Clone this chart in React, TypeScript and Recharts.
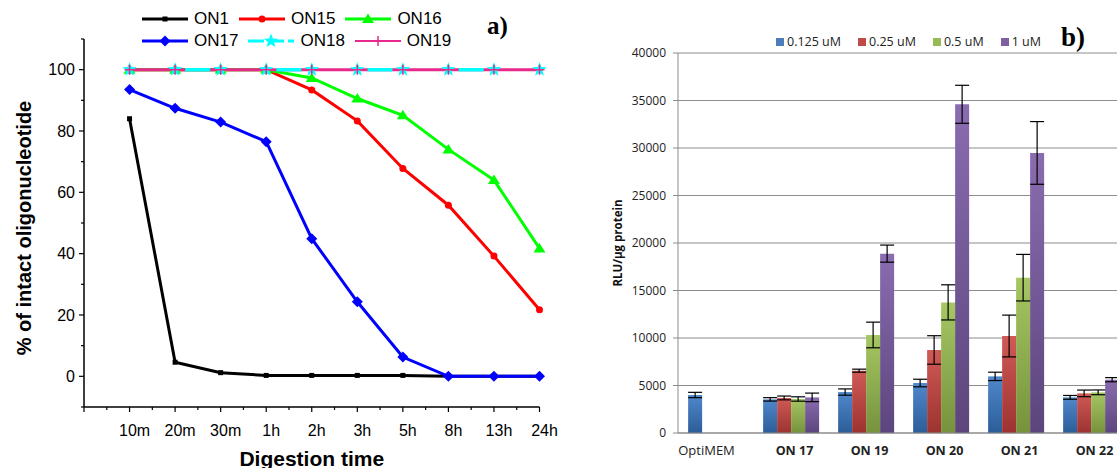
import React from 'react';
import {
  LineChart, Line, XAxis, YAxis, Legend,
  BarChart, Bar, ErrorBar, CartesianGrid,
} from 'recharts';

// ---- panel a) data ----
const timeLabels = ['10m', '20m', '30m', '1h', '2h', '3h', '5h', '8h', '13h', '24h'];
const on1 = [84, 4.6, 1.2, 0.3, 0.3, 0.3, 0.3, 0, 0, 0];
const on15 = [100, 100, 100, 100, 93.4, 83.3, 67.8, 55.8, 39.2, 21.7];
const on16 = [100, 100, 100, 100, 97.3, 90.6, 85.1, 74, 64, 41.7];
const on17 = [93.5, 87.4, 82.9, 76.5, 44.9, 24.3, 6.3, 0, 0, 0];
const on18 = [100, 100, 100, 100, 100, 100, 100, 100, 100, 100];
const on19 = [100, 100, 100, 100, 100, 100, 100, 100, 100, 100];

const yTicksA = [-10, 0, 10, 20, 30, 40, 50, 60, 70, 80, 90, 100, 110];
const xTicksA = [0, 0.5, 1, 1.5, 2, 2.5, 3, 3.5, 4, 4.5, 5, 5.5, 6, 6.5, 7, 7.5, 8, 8.5, 9, 9.5, 10];

// ---- panel b) data ----
const groups = ['OptiMEM', 'ON 17', 'ON 19', 'ON 20', 'ON 21', 'ON 22'];
const c0125 = [4000, 3540, 4310, 5260, 5960, 3750];
const c0125Err = [280, 180, 330, 400, 440, 200];
const c025 = [null, 3690, 6560, 8740, 10210, 4170];
const c025Err = [null, 200, 160, 1500, 2200, 350];
const c05 = [null, 3580, 10320, 13750, 16350, 4280];
const c05Err = [null, 230, 1350, 1850, 2450, 250];
const c1 = [null, 3750, 18880, 34600, 29480, 5610];
const c1Err = [null, 450, 900, 2000, 3300, 220];
const yTicksB = [0, 5000, 10000, 15000, 20000, 25000, 30000, 35000, 40000];

const lineData = timeLabels.map((label, i) => ({
  t: i + 1,
  label,
  ON1: on1[i],
  ON15: on15[i],
  ON16: on16[i],
  ON17: on17[i],
  ON18: on18[i],
  ON19: on19[i],
}));

const barData = groups.map((g, i) => ({
  group: g,
  a: c0125[i], aErr: c0125Err[i],
  b: c025[i], bErr: c025Err[i],
  c: c05[i], cErr: c05Err[i],
  d: c1[i], dErr: c1Err[i],
}));

const seriesA = [
  { key: 'ON1', color: '#000000', shape: 'square', width: 3 },
  { key: 'ON15', color: '#FF0000', shape: 'circle', width: 3 },
  { key: 'ON16', color: '#00FF00', shape: 'triangle', width: 3 },
  { key: 'ON17', color: '#0000FF', shape: 'diamond', width: 3 },
  { key: 'ON18', color: '#00FFFF', shape: 'star', width: 3, dash: true },
  { key: 'ON19', color: '#E8288C', shape: 'plus', width: 2 },
];

const seriesB = [
  { key: 'a', name: '0.125 uM', top: '#5088cc', bottom: '#2b5d98', swatch: '#4a7ebb' },
  { key: 'b', name: '0.25 uM', top: '#d05a56', bottom: '#9c3330', swatch: '#be4b48' },
  { key: 'c', name: '0.5 uM', top: '#a6c763', bottom: '#76923c', swatch: '#98b954' },
  { key: 'd', name: '1 uM', top: '#8a6cb0', bottom: '#5c457c', swatch: '#7d60a0' },
];

const sansA = '"Liberation Sans", Arial, sans-serif';
const sansB = '"Open Sans", sans-serif';

function Marker({ shape, color, cx, cy }: any) {
  if (cx == null || cy == null) return null;
  switch (shape) {
    case 'square':
      return <rect x={cx - 2.5} y={cy - 2.5} width={5} height={5} fill={color} />;
    case 'circle':
      return <circle cx={cx} cy={cy} r={3.5} fill={color} />;
    case 'triangle':
      return <polygon points={`${cx},${cy - 5.5} ${cx + 6},${cy + 4} ${cx - 6},${cy + 4}`} fill={color} />;
    case 'diamond':
      return <polygon points={`${cx},${cy - 5.5} ${cx + 5.5},${cy} ${cx},${cy + 5.5} ${cx - 5.5},${cy}`} fill={color} />;
    case 'star': {
      const pts = [];
      for (let k = 0; k < 10; k++) {
        const r = k % 2 === 0 ? 7.5 : 3.2;
        const ang = -Math.PI / 2 + (k * Math.PI) / 5;
        pts.push(`${cx + r * Math.cos(ang)},${cy + r * Math.sin(ang)}`);
      }
      return <polygon points={pts.join(' ')} fill={color} />;
    }
    case 'plus':
      return <path d={`M${cx - 5},${cy}H${cx + 5}M${cx},${cy - 5}V${cy + 5}`} stroke={color} strokeWidth={1.5} />;
    default:
      return null;
  }
}

const makeDot = (shape: string, color: string) => (p: any) => (
  <Marker key={`${shape}-${p.index}`} shape={shape} color={color} cx={p.cx} cy={p.cy} />
);

const YTickA = ({ x, y, payload }: any) => {
  const v = payload.value;
  const major = v >= 0 && v <= 100 && v % 20 === 0;
  return (
    <g>
      <line x1={x} x2={x - (major ? 5 : 3)} y1={y} y2={y} stroke="#000" strokeWidth={1.2} />
      {major && (
        <text x={x - 9} y={y} textAnchor="end" dominantBaseline="central"
          fontSize={16} fontFamily={sansA} fill="#000">{v}</text>
      )}
    </g>
  );
};

const XTickA = ({ x, y, payload }: any) => {
  const v = payload.value;
  const major = Number.isInteger(v);
  return (
    <g>
      <line x1={x} x2={x} y1={y} y2={y + (major ? 5 : 3)} stroke="#000" strokeWidth={1.2} />
      {major && v >= 1 && (
        <text x={x + 5} y={y + 23} textAnchor="middle" dominantBaseline="central"
          fontSize={16} fontFamily={sansA} fill="#000">{timeLabels[v - 1]}</text>
      )}
    </g>
  );
};

const LegendA = () => {
  const rows = [seriesA.slice(0, 3), seriesA.slice(3)];
  return (
    <div style={{ fontFamily: sansA, fontSize: 17, color: '#000', lineHeight: '22px' }}>
      {rows.map((row, ri) => (
        <div key={ri} style={{ display: 'flex', alignItems: 'center', gap: 10 }}>
          {row.map((s) => (
            <div key={s.key} style={{ display: 'flex', alignItems: 'center', gap: 6 }}>
              <svg width={46} height={16}>
                <line x1={0} x2={46} y1={8} y2={8} stroke={s.color} strokeWidth={s.width}
                  strokeDasharray={s.dash ? '16 4' : undefined} />
                <Marker shape={s.shape} color={s.color} cx={23} cy={8} />
              </svg>
              <span>{s.key}</span>
            </div>
          ))}
        </div>
      ))}
    </div>
  );
};

const LegendB = () => (
  <div style={{ display: 'flex', alignItems: 'center', gap: 17, fontFamily: sansB, fontSize: 12.5, color: '#222' }}>
    {seriesB.map((s) => (
      <div key={s.key} style={{ display: 'flex', alignItems: 'center', gap: 3 }}>
        <div style={{ width: 8, height: 8, background: s.swatch }} />
        <span>{s.name}</span>
      </div>
    ))}
  </div>
);

const XTickB = ({ x, y, payload }: any) => {
  const plain = payload.value === 'OptiMEM';
  return (
    <text x={plain ? x - 9 : x + 4} y={y + 9} textAnchor="middle" dominantBaseline="central"
      fontSize={plain ? 13 : 12.5} fontWeight={plain ? 400 : 700} fontFamily={sansB} fill="#222">
      {payload.value}
    </text>
  );
};

const yTitleA = (props: any) => {
  const vb = props.viewBox;
  const x = vb.x + 20;
  const y = vb.y + vb.height / 2 + 5;
  return (
    <text x={x} y={y} transform={`rotate(-90, ${x}, ${y})`} textAnchor="middle" dominantBaseline="central"
      fontSize={20} fontWeight={700} fontFamily={sansA} fill="#000">% of intact oligonucleotide</text>
  );
};

const xTitleA = (props: any) => {
  const vb = props.viewBox;
  return (
    <text x={vb.x + vb.width / 2} y={vb.y + 51} textAnchor="middle" dominantBaseline="central"
      fontSize={21} fontWeight={700} fontFamily={sansA} fill="#000">Digestion time</text>
  );
};

const yTitleB = (props: any) => {
  const vb = props.viewBox;
  const x = vb.x + 9;
  const y = vb.y + vb.height / 2;
  return (
    <text x={x} y={y} transform={`rotate(-90, ${x}, ${y})`} textAnchor="middle" dominantBaseline="central"
      fontSize={11.5} fontWeight={700} fontFamily={sansB} fill="#111">RLU/µg protein</text>
  );
};

export default function App() {
  return (
    <div style={{ position: 'absolute', left: 0, top: 0, width: 1117, height: 468, overflow: 'hidden', background: '#fff' }}>
      {/* a) degradation time course */}
      <div style={{ position: 'absolute', left: 0, top: 0 }}>
        <LineChart width={580} height={468} data={lineData} margin={{ top: 39, right: 40.5, bottom: 0, left: 4 }}>
          <XAxis type="number" dataKey="t" domain={[0, 10]} ticks={xTicksA} interval={0}
            height={61} tickLine={false} tickSize={0} tickMargin={0}
            axisLine={{ stroke: '#000', strokeWidth: 1.5 }} tick={<XTickA />} label={xTitleA} />
          <YAxis type="number" domain={[-10, 110]} ticks={yTicksA} interval={0}
            width={80} tickLine={false} tickSize={0} tickMargin={0}
            axisLine={{ stroke: '#000', strokeWidth: 1.5 }} tick={<YTickA />} label={yTitleA} />
          <Legend layout="horizontal" verticalAlign="middle" align="center" content={<LegendA />}
            wrapperStyle={{ top: 8, left: 142, width: 360 }} />
          {seriesA.filter((s) => s.key !== 'ON18' && s.key !== 'ON19').map((s) => (
            <Line key={s.key} type="linear" dataKey={s.key} stroke={s.color} strokeWidth={s.width}
              dot={makeDot(s.shape, s.color)} activeDot={false} isAnimationActive={false} />
          ))}
          <Line type="linear" dataKey="ON19" stroke="#E8288C" strokeWidth={3} dot={false}
            activeDot={false} isAnimationActive={false} />
          <Line type="linear" dataKey="ON18" stroke="#00FFFF" strokeWidth={3.5}
            strokeDasharray="25 66.2" strokeDashoffset={35.6}
            style={{ strokeDasharray: '25 66.2', strokeDashoffset: 35.6 }}
            dot={makeDot('star', '#00FFFF')} activeDot={false} isAnimationActive={false} />
          <Line type="linear" dataKey="ON19" stroke="none" legendType="none" dot={makeDot('plus', '#E8288C')}
            activeDot={false} isAnimationActive={false} />
        </LineChart>
        <div style={{ position: 'absolute', left: 487, top: 12, fontFamily: '"Liberation Serif", serif', fontWeight: 700, fontSize: 25, color: '#000' }}>a)</div>
      </div>

      {/* b) luciferase expression */}
      <div style={{ position: 'absolute', left: 600, top: 0 }}>
        <BarChart width={540} height={468} data={barData} barGap={0} barCategoryGap="13.5%"
          margin={{ top: 53, right: 12, bottom: 5, left: 8 }}>
          <defs>
            {seriesB.map((s) => (
              <linearGradient key={s.key} id={`grad-${s.key}`} x1="0" y1="0" x2="0" y2="1">
                <stop offset="0%" stopColor={s.top} />
                <stop offset="100%" stopColor={s.bottom} />
              </linearGradient>
            ))}
          </defs>
          <CartesianGrid vertical={false} stroke="#8c8c8c" />
          <XAxis dataKey="group" height={30} tickLine={false} axisLine={{ stroke: '#8c8c8c' }}
            interval={0} tick={<XTickB />} />
          <YAxis domain={[0, 40000]} ticks={yTicksB} interval={0} width={70}
            tickSize={5} tickMargin={7} tickLine={{ stroke: '#8c8c8c' }} axisLine={{ stroke: '#8c8c8c' }}
            tick={{ fontSize: 12, fontFamily: sansB, fill: '#222' }} label={yTitleB} />
          <Legend layout="horizontal" verticalAlign="middle" align="center" content={<LegendB />}
            wrapperStyle={{ top: 33, left: 176, width: 300 }} />
          {seriesB.map((s) => (
            <Bar key={s.key} dataKey={s.key} name={s.name} fill={`url(#grad-${s.key})`} isAnimationActive={false}>
              <ErrorBar dataKey={`${s.key}Err`} width={7} stroke="#000" strokeWidth={1.2} direction="y" />
            </Bar>
          ))}
        </BarChart>
        <div style={{ position: 'absolute', left: 461, top: 22, fontFamily: '"Liberation Serif", serif', fontWeight: 700, fontSize: 27, color: '#000' }}>b)</div>
      </div>
    </div>
  );
}
